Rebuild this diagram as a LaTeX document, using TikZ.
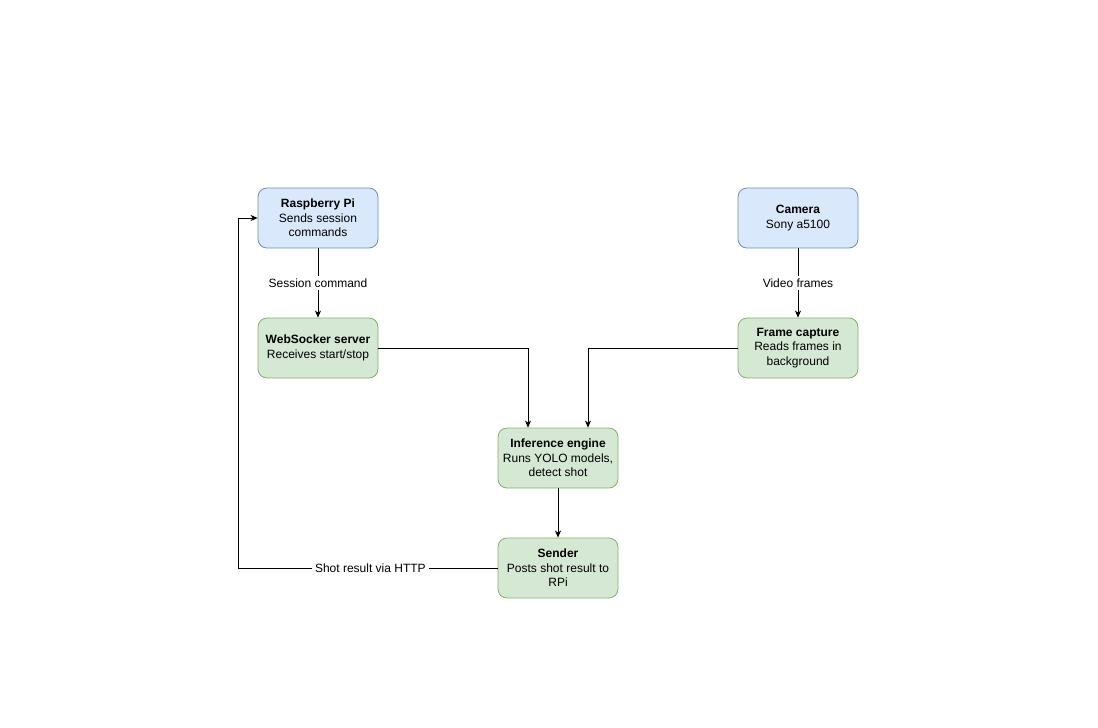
\documentclass[tikz,border=0pt]{standalone}
\usepackage{fontspec}
\setmainfont{Liberation Sans}
\usetikzlibrary{arrows.meta}
\definecolor{bluefill}{HTML}{DAE8FC}
\definecolor{bluedraw}{HTML}{6C8EBF}
\definecolor{greenfill}{HTML}{D5E8D4}
\definecolor{greendraw}{HTML}{82B366}
\tikzset{
  box/.style={rounded corners=9pt, minimum width=120pt, minimum height=60pt, align=center, inner sep=2pt, font=\fontsize{12}{14.5}\selectfont, line width=0.8pt},
  bluebox/.style={box, fill=bluefill, draw=bluedraw},
  greenbox/.style={box, fill=greenfill, draw=greendraw},
  conn/.style={line width=0.8pt, -{Stealth[length=7pt,width=6pt,inset=2pt]}},
  lbl/.style={fill=white, font=\fontsize{12}{14.5}\selectfont, inner sep=3pt},
}
\begin{document}
\begin{tikzpicture}[x=1pt,y=-1pt]
\useasboundingbox (0,0) rectangle (1098,728);
\node[bluebox] (rpi) at (318,218) {\textbf{Raspberry Pi}\\Sends session\\commands};
\node[bluebox] (cam) at (798,218) {\textbf{Camera}\\Sony a5100};
\node[greenbox] (ws) at (318,348) {\textbf{WebSocker server}\\Receives start/stop};
\node[greenbox] (fc) at (798,348) {\textbf{Frame capture}\\Reads frames in\\background};
\node[greenbox] (inf) at (558,458) {\textbf{Inference engine}\\Runs YOLO models,\\detect shot};
\node[greenbox] (snd) at (558,568) {\textbf{Sender}\\Posts shot result to\\RPi};
\coordinate (c1) at (528,348);
\coordinate (c2) at (588,348);
\coordinate (c3) at (238,568);
\coordinate (c4) at (238,218);
\draw[conn] (rpi.south) -- node[lbl] {Session command} (ws.north);
\draw[conn] (cam.south) -- node[lbl] {Video frames} (fc.north);
\draw[conn] (ws.east) -- (c1) -- (c1 |- inf.north);
\draw[conn] (fc.west) -- (c2) -- (c2 |- inf.north);
\draw[conn] (inf.south) -- (snd.north);
\draw[conn] (snd.west) -- node[lbl, pos=0.49] {Shot result via HTTP} (c3) -- (c4) -- (rpi.west);
\end{tikzpicture}
\end{document}
